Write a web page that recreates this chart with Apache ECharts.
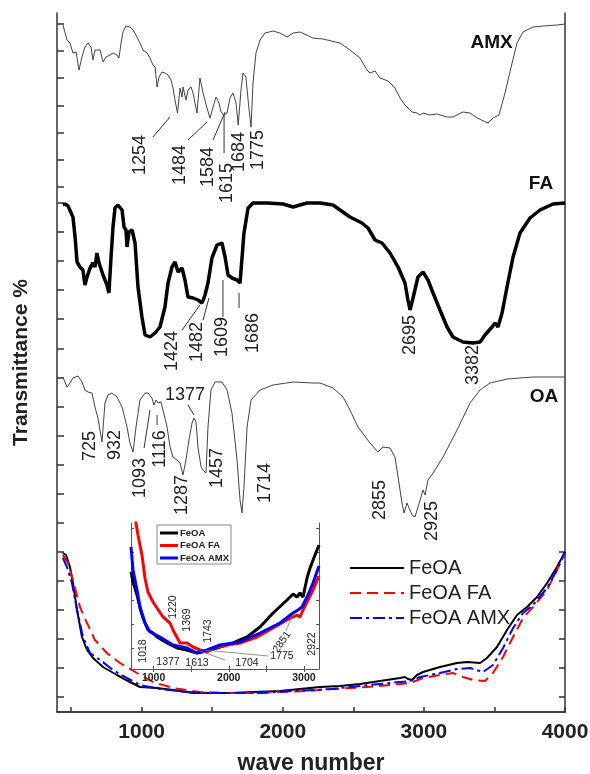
<!DOCTYPE html>
<html>
<head>
<meta charset="utf-8">
<script src="https://cdn.jsdelivr.net/npm/echarts@6/dist/echarts.min.js"></script>
<style>
html, body { margin: 0; padding: 0; background: #fff; }
#main { width: 590px; height: 774px; }
</style>
</head>
<body>
<div id="main"></div>
<script>
var FONT = '"Liberation Sans", Arial, sans-serif';

// spectra, [wave number, transmittance (a.u.)], each panel read from its own baseline
var amx = [[442,145],[471,130],[492,127],[513,117],[535,118],[556,100],[577,113],[598,123],[620,127],[641,123],[655,110],[669,120],[683,118],[705,120],[726,108],[747,113],[776,115],[797,117],[825,115],[839,112],[854,127],[868,138],[889,144],[917,143],[939,140],[967,133],[988,127],[1009,120],[1038,117],[1059,112],[1080,105],[1095,103],[1109,83],[1123,93],[1144,98],[1165,97],[1187,95],[1208,90],[1222,82],[1236,70],[1254,57],[1272,82],[1286,73],[1293,83],[1314,70],[1328,80],[1350,83],[1364,77],[1392,57],[1413,92],[1435,77],[1463,62],[1484,52],[1506,63],[1527,73],[1548,67],[1562,58],[1584,55],[1605,57],[1626,72],[1647,77],[1669,67],[1684,45],[1704,80],[1718,97],[1739,93],[1754,70],[1775,43],[1789,87],[1810,117],[1839,130],[1874,137],[1931,139],[1980,137],[2030,133],[2073,137],[2122,138],[2214,132],[2285,131],[2406,127],[2476,120],[2547,112],[2597,100],[2618,97],[2654,99],[2689,92],[2746,89],[2795,82],[2831,72],[2866,65],[2916,58],[2951,57],[2973,55],[2994,57],[3043,55],[3093,56],[3164,53],[3206,53],[3277,58],[3327,57],[3377,52],[3454,47],[3490,52],[3532,55],[3575,77],[3625,107],[3660,127],[3703,138],[3773,143],[3844,144],[3943,145],[4000,146]];

var fa = [[442,155],[457,156],[478,154],[492,155],[513,143],[528,123],[542,98],[563,93],[584,90],[598,75],[613,83],[634,92],[655,97],[669,93],[683,107],[698,97],[726,85],[754,75],[768,67],[783,103],[797,133],[811,152],[832,155],[861,150],[875,133],[889,130],[896,113],[910,128],[932,130],[953,117],[974,73],[1002,43],[1024,25],[1059,23],[1095,27],[1130,33],[1165,53],[1187,77],[1215,93],[1236,98],[1258,88],[1286,92],[1307,80],[1328,63],[1364,62],[1399,60],[1428,57],[1449,65],[1470,77],[1498,102],[1534,115],[1569,117],[1591,103],[1612,85],[1640,82],[1676,80],[1697,77],[1725,127],[1754,152],[1789,157],[1888,157],[2002,156],[2073,153],[2122,155],[2172,157],[2264,157],[2356,155],[2476,143],[2561,137],[2604,132],[2654,120],[2703,117],[2760,107],[2817,93],[2866,77],[2887,60],[2902,50],[2923,62],[2958,83],[2994,88],[3029,80],[3065,67],[3114,50],[3164,33],[3206,23],[3277,18],[3348,17],[3398,18],[3433,25],[3483,33],[3504,37],[3525,33],[3554,47],[3589,73],[3632,103],[3681,127],[3752,142],[3823,150],[3915,156],[4000,157]];

var oa = [[442,148],[471,138],[492,142],[513,147],[549,149],[577,143],[598,135],[620,133],[648,132],[669,118],[690,107],[719,83],[740,122],[761,130],[790,132],[825,128],[861,118],[896,98],[917,82],[939,73],[960,98],[988,125],[1024,132],[1045,132],[1073,127],[1087,120],[1102,125],[1116,122],[1137,123],[1151,115],[1180,98],[1201,78],[1222,68],[1250,65],[1272,62],[1293,50],[1314,65],[1335,85],[1357,102],[1371,107],[1385,103],[1399,78],[1421,58],[1435,55],[1456,52],[1470,98],[1491,135],[1520,143],[1569,143],[1605,135],[1640,112],[1676,65],[1697,25],[1711,12],[1725,38],[1747,98],[1775,125],[1839,135],[1931,140],[2073,143],[2214,142],[2264,142],[2356,137],[2427,128],[2476,115],[2533,98],[2618,82],[2675,73],[2710,78],[2760,77],[2795,68],[2817,48],[2845,22],[2859,12],[2880,22],[2916,10],[2937,8],[2973,25],[2994,35],[3008,30],[3029,45],[3065,52],[3136,68],[3235,95],[3327,122],[3398,135],[3469,142],[3589,146],[3773,148],[4000,148]];

var feoa = [[442,159],[464,157],[492,145],[513,129],[542,102],[577,75],[613,62],[655,54],[726,45],[825,37],[917,30],[988,25],[1109,24],[1222,22],[1364,19],[1506,19],[1626,19],[1789,20],[1980,21],[2122,23],[2264,25],[2406,26],[2547,28],[2689,31],[2831,34],[2866,35],[2887,33],[2916,32],[2951,37],[2994,40],[3114,45],[3235,49],[3306,50],[3398,49],[3447,54],[3518,65],[3589,82],[3660,97],[3731,105],[3802,115],[3873,129],[3943,145],[4000,160]];
var feoaFa = [[442,157],[478,149],[513,132],[563,105],[613,89],[669,72],[754,59],[847,49],[967,39],[1080,30],[1222,24],[1413,20],[1605,19],[1789,19],[1980,20],[2172,21],[2356,23],[2597,25],[2831,28],[2902,29],[2994,34],[3114,37],[3206,39],[3277,35],[3348,32],[3433,31],[3490,39],[3561,55],[3632,75],[3703,94],[3773,105],[3873,122],[3943,142],[4000,159]];
var feoaAmx = [[442,154],[471,145],[506,129],[542,102],[584,75],[634,59],[705,52],[797,42],[896,34],[988,27],[1130,23],[1321,20],[1506,19],[1647,19],[1839,19],[2073,21],[2356,23],[2406,24],[2689,28],[2902,31],[2973,35],[3114,39],[3235,43],[3327,44],[3419,40],[3490,47],[3561,64],[3632,84],[3703,99],[3773,107],[3873,124],[3943,142],[4000,160]];

// inset (zoomed FeOA spectra)
var insetFeoa = [[700,97],[727,87],[780,74],[820,61],[860,51],[926,39],[993,36],[1046,32],[1179,26],[1312,21],[1445,19],[1578,16],[1711,18],[1884,22],[2057,26],[2243,32],[2416,42],[2589,56],[2775,69],[2855,75],[2908,72],[2948,76],[2974,76],[2988,72],[3041,91],[3081,101],[3147,114],[3200,124]];
var insetFeoaFa = [[750,160],[766,146],[793,134],[846,114],[886,91],[926,77],[993,67],[1126,52],[1219,46],[1259,39],[1352,26],[1445,26],[1525,22],[1618,19],[1711,17],[1791,21],[1977,24],[2150,26],[2376,32],[2589,41],[2775,49],[2908,54],[2948,52],[2988,59],[3041,67],[3121,79],[3200,93]];
var insetFeoaAmx = [[700,122],[727,99],[780,79],[820,62],[886,46],[953,37],[1086,32],[1259,24],[1445,21],[1578,16],[1711,19],[1884,24],[2150,27],[2416,36],[2682,46],[2855,56],[2921,59],[2974,62],[3041,72],[3121,86],[3200,103]];

// vertical offsets of the stacked spectra
var offsets = { amx: 542, fa: 352, oa: 187, feoa: 0 };

var xTicks = [500, 1000, 1500, 2000, 2500, 3000, 3500, 4000];
var xLabels = [1000, 2000, 3000, 4000];
var insetXTicks = [1000, 1500, 2000, 2500, 3000];
var insetXLabels = [1000, 2000, 3000];

// peak annotations: [text, wave number, y, vertical?]
var mainNotes = [
	['1254', 988, 557, 1], ['1484', 1272, 547, 1], ['1584', 1470, 545, 1], ['1615', 1605, 529, 1],
	['1684', 1690, 560, 1], ['1775', 1824, 562, 1],
	['1424', 1215, 361, 1], ['1482', 1392, 370, 1], ['1609', 1569, 375, 1], ['1686', 1789, 379, 1],
	['2695', 2902, 377, 1], ['3382', 3348, 347, 1],
	['725', 634, 266, 1], ['932', 811, 267, 1], ['1093', 988, 234, 1], ['1116', 1130, 263, 1],
	['1287', 1286, 217, 1], ['1377', 1307, 317, 0], ['1457', 1534, 244, 1], ['1714', 1874, 229, 1],
	['2855', 2689, 212, 1], ['2925', 3058, 191, 1]
];
var mainLeaders = [
	[1080, 575, 1201, 595], [1328, 572, 1463, 590], [1506, 572, 1591, 600], [1584, 559, 1584, 597],
	[1286, 382, 1413, 407], [1435, 392, 1477, 414], [1576, 395, 1576, 432], [1690, 404, 1690, 419],
	[1017, 264, 1059, 302], [1109, 287, 1109, 297], [1328, 307, 1371, 297]
];
var panelNames = [['AMX', 3480, 669], ['FA', 3830, 528], ['OA', 3851, 315]];
var insetNotes = [
	['1018', 860, 18, 90], ['1220', 1259, 62, 90], ['1369', 1445, 49, 90], ['1743', 1724, 38, 90],
	['1377', 1192, 7, 0], ['1613', 1578, 6, 0], ['1704', 2243, 6, 0], ['1775', 2708, 13, 0],
	['2851', 2708, 27, 55], ['2922', 3107, 25, 90]
];
var insetLeaders = [[1950, 9, 1618, 18], [2522, 13, 1684, 19], [2760, 38, 2835, 52]];

function shift(arr, off) {
	return arr.map(function (p) { return [p[0], p[1] + off]; });
}
function range(start, step, n) {
	var out = [];
	for (var i = 0; i < n; i++) out.push(start + step * i);
	return out;
}
function plain(v) { return String(v); }

var leftTicks = range(525, 27.2, 7).concat(range(15, 29.06, 18));
var rightTicks = range(15, 29.06, 6);
var insetYTicks = range(21, 24, 6);

var myChart = echarts.init(document.getElementById('main'));

var axisLine = { show: true, lineStyle: { color: '#333', width: 1.5 } };
var insetLine = { show: true, lineStyle: { color: '#555', width: 1 } };

var option = {
	animation: false,
	backgroundColor: '#fff',
	textStyle: { fontFamily: FONT },
	grid: [
		{ left: 57, top: 13, width: 508, height: 699, outerBoundsMode: 'none' },
		{ left: 131, top: 523, width: 188, height: 146, outerBoundsMode: 'none', show: true, backgroundColor: '#fff', borderWidth: 0, z: 5 }
	],
	xAxis: [
		{
			type: 'value', gridIndex: 0, min: 400, max: 4000, position: 'bottom',
			axisLine: axisLine,
			axisTick: { show: true, inside: true, length: 5, customValues: xTicks, lineStyle: { color: '#333', width: 1.5 } },
			axisLabel: { customValues: xLabels, formatter: plain, margin: 10, fontSize: 21, fontWeight: 'bold', color: '#222', fontFamily: FONT },
			splitLine: { show: false },
			name: 'wave number', nameLocation: 'middle', nameGap: 40,
			nameTextStyle: { fontSize: 23, fontWeight: 'bold', color: '#222', fontFamily: FONT }
		},
		{
			type: 'value', gridIndex: 0, min: 400, max: 4000, position: 'top',
			axisLine: axisLine, axisTick: { show: false }, axisLabel: { show: false }, splitLine: { show: false }
		},
		{
			type: 'value', gridIndex: 1, min: 700, max: 3200, position: 'bottom', z: 6,
			axisLine: insetLine,
			axisTick: { show: true, inside: true, length: 3, customValues: insetXTicks, lineStyle: { color: '#555' } },
			axisLabel: { customValues: insetXLabels, formatter: plain, margin: 4, fontSize: 10.5, fontWeight: 'bold', color: '#222', fontFamily: FONT },
			splitLine: { show: false }
		},
		{
			type: 'value', gridIndex: 1, min: 700, max: 3200, position: 'top', z: 6,
			axisLine: insetLine,
			axisTick: { show: true, inside: true, length: 3, customValues: insetXTicks, lineStyle: { color: '#555' } },
			axisLabel: { show: false }, splitLine: { show: false }
		}
	],
	yAxis: [
		{
			type: 'value', gridIndex: 0, min: 0, max: 699, position: 'left',
			axisLine: axisLine,
			axisTick: { show: true, inside: true, length: 7, customValues: leftTicks, lineStyle: { color: '#333', width: 1.5 } },
			axisLabel: { show: false }, splitLine: { show: false },
			name: 'Transmittance %', nameLocation: 'middle', nameGap: 25, nameRotate: 90,
			nameTextStyle: { fontSize: 21, fontWeight: 'bold', color: '#222', fontFamily: FONT }
		},
		{
			type: 'value', gridIndex: 0, min: 0, max: 699, position: 'right',
			axisLine: axisLine,
			axisTick: { show: true, inside: true, length: 6, customValues: rightTicks, lineStyle: { color: '#333', width: 1.5 } },
			axisLabel: { show: false }, splitLine: { show: false }
		},
		{
			type: 'value', gridIndex: 1, min: 0, max: 146, position: 'left', z: 6,
			axisLine: insetLine,
			axisTick: { show: true, inside: true, length: 3, customValues: insetYTicks, lineStyle: { color: '#555' } },
			axisLabel: { show: false }, splitLine: { show: false }
		},
		{
			type: 'value', gridIndex: 1, min: 0, max: 146, position: 'right', z: 6,
			axisLine: insetLine,
			axisTick: { show: true, inside: true, length: 3, customValues: insetYTicks, lineStyle: { color: '#555' } },
			axisLabel: { show: false }, splitLine: { show: false }
		}
	],
	legend: {
		data: ['FeOA', 'FeOA FA', 'FeOA AMX'],
		orient: 'vertical', left: 344, top: 553,
		itemWidth: 54, itemHeight: 14, itemGap: 5,
		selectedMode: false,
		itemStyle: { opacity: 0 },
		textStyle: { fontSize: 20, color: '#222', fontFamily: FONT }
	},
	series: [
		{ name: 'AMX', type: 'line', xAxisIndex: 0, yAxisIndex: 0, symbol: 'none', data: shift(amx, offsets.amx), lineStyle: { color: '#444', width: 1 } },
		{ name: 'FA', type: 'line', xAxisIndex: 0, yAxisIndex: 0, symbol: 'none', data: shift(fa, offsets.fa), lineStyle: { color: '#000', width: 3.5 } },
		{ name: 'OA', type: 'line', xAxisIndex: 0, yAxisIndex: 0, symbol: 'none', data: shift(oa, offsets.oa), lineStyle: { color: '#444', width: 1 } },
		{ name: 'FeOA', type: 'line', xAxisIndex: 0, yAxisIndex: 0, symbol: 'none', data: shift(feoa, offsets.feoa), itemStyle: { color: '#000' }, lineStyle: { color: '#000', width: 2 } },
		{ name: 'FeOA FA', type: 'line', xAxisIndex: 0, yAxisIndex: 0, symbol: 'none', data: shift(feoaFa, offsets.feoa), itemStyle: { color: '#ff0000' }, lineStyle: { color: '#ff0000', width: 2, type: [11, 6] } },
		{ name: 'FeOA AMX', type: 'line', xAxisIndex: 0, yAxisIndex: 0, symbol: 'none', data: shift(feoaAmx, offsets.feoa), itemStyle: { color: '#0000ff' }, lineStyle: { color: '#0000ff', width: 2, type: [12, 4, 3, 4] } },
		{ name: 'inset FeOA', type: 'line', xAxisIndex: 2, yAxisIndex: 2, symbol: 'none', z: 7, data: insetFeoa, lineStyle: { color: '#000', width: 3 } },
		{ name: 'inset FeOA FA', type: 'line', xAxisIndex: 2, yAxisIndex: 2, symbol: 'none', z: 7, data: insetFeoaFa, lineStyle: { color: '#ff0000', width: 3 } },
		{ name: 'inset FeOA AMX', type: 'line', xAxisIndex: 2, yAxisIndex: 2, symbol: 'none', z: 7, data: insetFeoaAmx, lineStyle: { color: '#0000ff', width: 3 } }
	]
};

myChart.setOption(option);

// annotations placed through the chart's own axes
var graphics = [];
function pt(seriesIndex, x, y) {
	return myChart.convertToPixel({ seriesIndex: seriesIndex }, [x, y]);
}
mainNotes.forEach(function (n) {
	var p = pt(0, n[1], n[2]);
	graphics.push({
		type: 'text', x: p[0], y: p[1], rotation: n[3] ? Math.PI / 2 : 0, z: 20,
		style: { text: n[0], font: '18px ' + FONT, fill: '#222', align: 'center', verticalAlign: 'middle' }
	});
});
mainLeaders.forEach(function (l) {
	var a = pt(0, l[0], l[1]), b = pt(0, l[2], l[3]);
	graphics.push({ type: 'line', z: 20, shape: { x1: a[0], y1: a[1], x2: b[0], y2: b[1] }, style: { stroke: '#333', lineWidth: 1 } });
});
panelNames.forEach(function (n) {
	var p = pt(0, n[1], n[2]);
	graphics.push({
		type: 'text', x: p[0], y: p[1], z: 20,
		style: { text: n[0], font: 'bold 19px ' + FONT, fill: '#111', align: 'center', verticalAlign: 'middle' }
	});
});
insetNotes.forEach(function (n) {
	var p = pt(6, n[1], n[2]);
	graphics.push({
		type: 'text', x: p[0], y: p[1], rotation: n[3] * Math.PI / 180, z: 20,
		style: { text: n[0], font: '10.5px ' + FONT, fill: '#222', align: 'center', verticalAlign: 'middle' }
	});
});
insetLeaders.forEach(function (l) {
	var a = pt(6, l[0], l[1]), b = pt(6, l[2], l[3]);
	graphics.push({ type: 'line', z: 20, shape: { x1: a[0], y1: a[1], x2: b[0], y2: b[1] }, style: { stroke: '#777', lineWidth: 0.8 } });
});

// inset legend
var insetKeys = [['FeOA', '#000'], ['FeOA FA', '#ff0000'], ['FeOA AMX', '#0000ff']];
graphics.push({ type: 'rect', z: 20, shape: { x: 157, y: 525, width: 74, height: 39 }, style: { fill: '#fff', stroke: '#888', lineWidth: 1 } });
insetKeys.forEach(function (k, i) {
	var y = 533 + i * 12.5;
	graphics.push({ type: 'line', z: 21, shape: { x1: 160, y1: y, x2: 178, y2: y }, style: { stroke: k[1], lineWidth: 3 } });
	graphics.push({ type: 'text', z: 21, x: 180, y: y, style: { text: k[0], font: 'bold 9.5px ' + FONT, fill: '#222', align: 'left', verticalAlign: 'middle' } });
});

myChart.setOption({ graphic: graphics });
</script>
</body>
</html>
